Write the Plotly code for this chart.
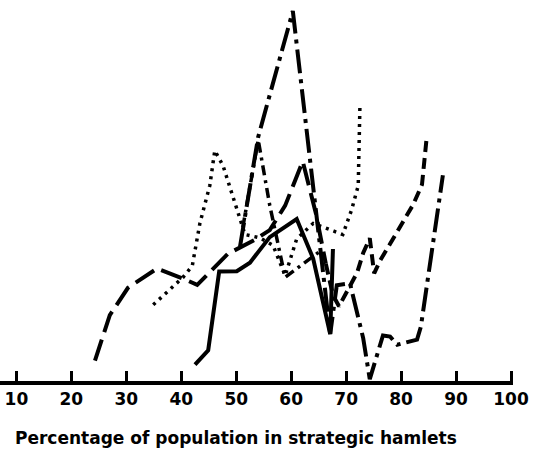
import plotly.graph_objects as go

# Percentage of population in strategic hamlets (x) vs. index (y, arbitrary units)
x_solid = [42.5, 44.9, 46.9, 50.1, 52.5, 56.1, 61.0, 64.0, 67.1, 67.6]
y_solid = [4.4, 8.3, 29.6, 29.7, 32.0, 38.9, 43.8, 33.1, 12.7, 35.7]

x_longdash = [24.3, 27.0, 30.3, 35.6, 40.3, 42.9, 48.5, 53.4, 56.1, 58.9, 62.1, 64.5, 66.3]
y_longdash = [5.5, 17.8, 25.2, 30.4, 27.7, 26.0, 34.4, 38.2, 40.8, 47.4, 59.4, 45.3, 31.7]

x_dash = [66.3, 67.6, 68.7, 70.1, 72.0, 73.1, 74.3, 75.1, 76.2, 78.0, 80.3, 82.2, 83.8, 84.7]
y_dash = [31.7, 23.2, 20.2, 23.9, 29.3, 34.6, 38.6, 29.1, 32.6, 37.1, 43.2, 47.7, 53.1, 66.5]

x_dotted = [34.9, 38.5, 40.3, 42.0, 43.4, 45.2, 46.1, 47.6, 50.3, 51.6, 54.3, 56.7, 58.9,
            61.0, 64.0, 67.1, 69.4, 71.0, 72.2, 72.5]
y_dotted = [20.6, 25.4, 28.0, 31.1, 42.7, 52.9, 62.3, 58.2, 45.6, 39.6, 38.7, 36.7, 28.5,
            38.4, 42.6, 40.8, 39.6, 46.3, 52.8, 73.8]

x_dashdot = [51.2, 54.0, 56.1, 58.9, 62.1, 65.2]
y_dashdot = [41.5, 65.2, 47.5, 28.0, 31.6, 35.0]

x_peak = [50.7, 54.0, 60.3, 64.3, 67.1, 68.3, 70.7, 73.1, 74.3, 76.7, 78.0, 79.3, 82.9, 83.6, 87.6]
y_peak = [36.4, 66.0, 100.0, 49.9, 12.7, 25.9, 26.4, 11.6, 0.5, 12.3, 12.0, 9.8, 11.2, 14.7, 55.6]

tick_vals = [10, 20, 30, 40, 50, 60, 70, 80, 90, 100]
tick_text = ["10", "20", "30", "40", "50", "60", "70", "80", "90", "100"]
x_title = "Percentage of population in strategic hamlets"

fig = go.Figure()

def add(xs, ys, dash, width):
    fig.add_trace(go.Scatter(x=xs, y=ys, mode="lines",
                             line=dict(color="black", width=width, dash=dash),
                             showlegend=False, hoverinfo="skip"))

add(x_solid, y_solid, "solid", 4)
add(x_longdash, y_longdash, "22px,8px", 4)
add(x_dash, y_dash, "11px,6px", 4)
add(x_dotted, y_dotted, "3px,5px", 3.5)
add(x_dashdot, y_dashdot, "10px,5px,3px,5px", 3.5)
add(x_peak, y_peak, "24px,6px,4px,6px", 4)

fig.update_layout(
    width=534, height=453,
    margin=dict(l=0, r=21, t=0, b=72),
    paper_bgcolor="white", plot_bgcolor="white",
    xaxis=dict(range=[7.02, 100.36], showgrid=False, zeroline=False,
               showline=True, linecolor="black", linewidth=4,
               ticks="inside", ticklen=10, tickwidth=2.5, tickcolor="black",
               tickvals=tick_vals, ticktext=tick_text, automargin=False,
               tickfont=dict(family="DejaVu Sans", size=17, color="black", weight="bold")),
    yaxis=dict(range=[0, 103], visible=False, fixedrange=True),
    annotations=[dict(text=x_title, xref="paper", yref="paper",
                      x=236 / 513, y=(381 - 438) / 381, xanchor="center", yanchor="middle",
                      showarrow=False,
                      font=dict(family="DejaVu Sans", size=17, color="black", weight="bold"))],
)

fig.write_html("out.html")
